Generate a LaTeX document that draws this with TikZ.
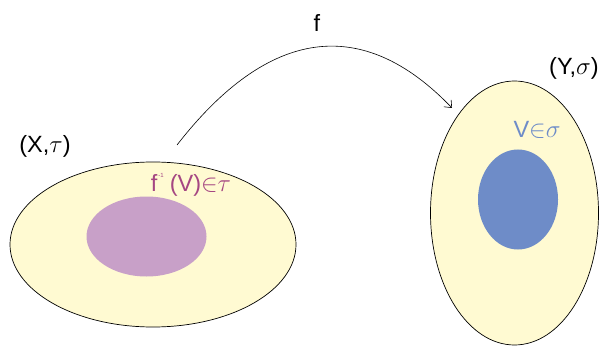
\documentclass[tikz,border=0pt]{standalone}
\usepackage{fontspec}
\usetikzlibrary{arrows.meta}
\setmainfont{Liberation Sans}
\definecolor{setyellow}{RGB}{255,250,210}
\definecolor{setpurple}{RGB}{200,160,200}
\definecolor{setblue}{RGB}{110,140,200}
\definecolor{txtpurple}{RGB}{165,70,130}
\definecolor{txtblue}{RGB}{110,140,200}
\tikzset{
  bigset/.style={draw=black, line width=0.7pt, fill=setyellow},
  lbl/.style={font=\fontsize{23.5}{27}\selectfont, inner sep=0pt},
}
\begin{document}
\begin{tikzpicture}[x=1pt,y=-1pt]
\useasboundingbox (0,0) rectangle (601,347);
\draw[bigset] (153,244.5) ellipse [x radius=143, y radius=82.5];
\fill[setpurple] (146.5,236.5) ellipse [x radius=60, y radius=40];
\draw[bigset] (514.5,213) ellipse [x radius=84, y radius=132];
\fill[setblue] (518,199.5) ellipse [x radius=40, y radius=50];
\node[lbl] (X) at (45,146) {(X,$\tau$)};
\node[lbl] (Y) at (574,68) {(Y,$\sigma$)};
\node[lbl] (f) at (317,23) {f};
\node[lbl, text=txtblue] (V) at (537,130) {V${\in}\sigma$};
\node[lbl, text=txtpurple] (fV) at (191,185) {f\hspace{1pt}\raisebox{1.1ex}{\fontsize{6}{7}\selectfont -1}\hspace{6pt}(V)${\in}\tau$};
\coordinate (s) at (177,145);
\coordinate (t) at (452,108);
\draw[line width=0.6pt, -{Straight Barb[length=6pt,width=10pt]}] (s) .. controls (268,28) and (362,14) .. (t);
\end{tikzpicture}
\end{document}
